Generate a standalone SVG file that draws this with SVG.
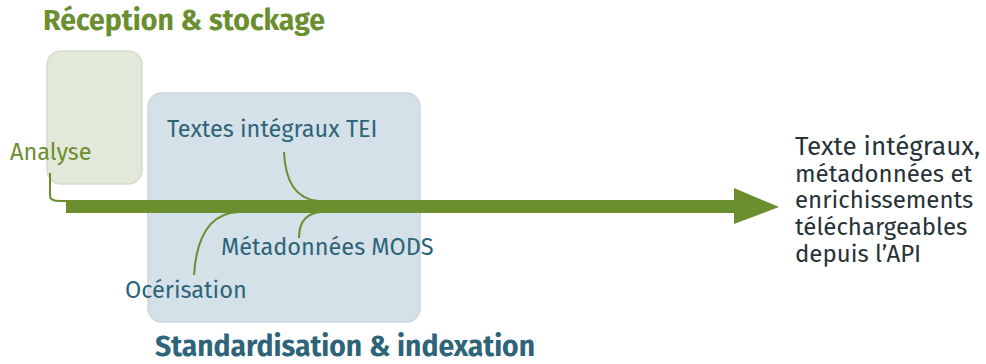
<svg xmlns="http://www.w3.org/2000/svg" width="986" height="364" viewBox="0 0 986 364">
<style>
text{font-family:"Fira Sans","Noto Sans","Open Sans",sans-serif}
.g{fill:#6b8e2f}
.b{fill:#2e6479}
.t{fill:#263238}
.h{font-weight:bold}
.c{fill:none;stroke:#6b8e2f;stroke-width:2}
.l{font-size:23.5px}
.r{font-size:24px}
</style>
<g id="reception">
<rect x="47" y="51" width="95" height="133" rx="14" fill="#e3e9d9" stroke="#d6dccb" stroke-width="1.5"/>
<text class="g h" x="43" y="30" font-size="28.5">Réception &amp; stockage</text>
</g>
<g id="standardisation">
<rect x="148" y="93" width="272" height="229" rx="14" fill="#d5e1e8" stroke="#cbd6dc" stroke-width="1.5"/>
<text class="b h" x="155" y="356" font-size="28.3">Standardisation &amp; indexation</text>
</g>
<g id="analyse"><text class="g l" x="10" y="160">Analyse</text></g>
<g id="tei"><text class="b l" x="167" y="137">Textes intégraux TEI</text></g>
<g id="mods"><text class="b l" x="221" y="255">Métadonnées MODS</text></g>
<g id="ocr"><text class="b l" x="125" y="298">Océrisation</text></g>
<g id="output">
<text class="t" x="795" y="155" font-size="26">Texte intégraux,</text>
<text class="t r" x="795" y="181.5">métadonnées et</text>
<text class="t r" x="795" y="208">enrichissements</text>
<text class="t r" x="795" y="235">téléchargeables</text>
<text class="t r" x="795" y="262">depuis l’API</text>
</g>
<g id="connectors">
<path class="c" d="M50,173 V196 Q50,201 60,201 H66"/>
<path class="c" d="M284,152 Q286,198 318,201"/>
<path class="c" d="M194,275 Q198,214 238,212"/>
<path class="c" d="M299,238 Q299,213 322,212"/>
<path d="M66,200 H734 V188 L779,207 L734,224 V213 H66 Z" fill="#6b8e2f"/>
</g>
</svg>
